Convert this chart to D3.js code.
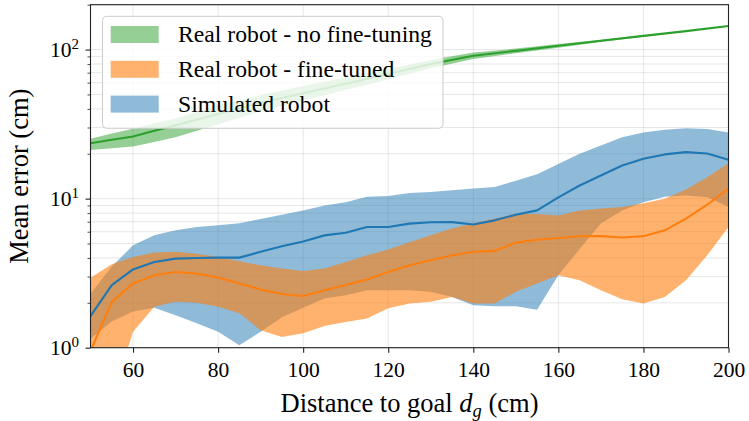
<!DOCTYPE html>
<html><head><meta charset="utf-8">
<script src="https://cdn.jsdelivr.net/npm/d3@7"></script>
<style>body{margin:0;background:#fff}</style>
</head><body><svg id="c" width="749" height="421"></svg>
<script>
// ---- data ----
const distances = [50,55,60,65,70,75,80,85,90,95,100,105,110,115,120,125,130,135,140,145,150,155,160,165,170,175,180,185,190,195,200];

const simMean  = [1.63,2.63,3.35,3.76,3.96,4.0,4.02,4.02,4.4,4.8,5.15,5.67,5.91,6.45,6.45,6.8,6.95,6.96,6.7,7.15,7.8,8.34,10.2,12.25,14.3,16.7,18.5,19.8,20.5,20.1,18.2];
const simUpper = [2.3,3.5,4.86,5.67,6.13,6.45,6.62,6.85,7.3,7.8,8.34,9.0,9.46,10.3,10.4,10.9,11.1,11.4,11.7,11.95,13.2,14.6,17.1,20,22.7,25.8,27.8,29,29.7,29.3,27.8];
const simLower = [1.15,1.5,1.75,1.85,1.65,1.46,1.28,1.04,1.28,1.6,1.85,2.14,2.25,2.43,2.43,2.43,2.37,2.19,1.93,1.9,1.9,1.8,3.06,4.6,6.8,8.34,9.46,10.3,10.5,10.2,8.8];

const ftMean  = [0.95,2.03,2.7,3.06,3.22,3.14,2.96,2.7,2.46,2.29,2.22,2.43,2.63,2.87,3.22,3.57,3.86,4.17,4.4,4.46,5.07,5.3,5.45,5.6,5.6,5.48,5.6,6.13,7.35,9.1,11.7];
const ftUpper = [2.95,3.63,4.06,4.35,4.4,4.27,4.06,3.8,3.57,3.4,3.27,3.4,3.76,4.17,4.55,5.1,5.67,6.3,6.85,7.35,7.9,7.9,7.7,8.34,8.6,8.8,9.3,10.0,11.5,13.9,17.3];
const ftLower = [0.5,0.45,1.28,1.88,2.03,2.0,1.88,1.7,1.31,1.18,1.25,1.40,1.49,1.57,1.84,1.98,2.03,2.19,1.98,1.98,2.37,2.7,3.06,2.84,2.43,2.11,1.98,2.19,2.84,4.17,6.45];

const greenDistances = [50,55,60,65,70,80,90,100,110,120,130,140,150,160,170,180,190,200];
const noFtMean  = [23.5,24.8,26.1,28.5,31,37,44,51,59,68.5,80,91,98,106,114.5,123.5,133,144];
const noFtUpper = [25.2,27.3,29.4,32,34.5,42.5,49.5,57,65,74,85,95.5,101.5,109,116.5,125,133.8,144.5];
const noFtLower = [21.2,21.8,22.4,24,25.8,31.5,38.5,45.5,53.5,63,75,86.5,94.5,103,112.5,122,132.2,143.5];

const xTicks = [60,80,100,120,140,160,180,200];
const yMajorTicks = [1,10,100];
const yTickExp = ["0","1","2"];
const legendLabels = ["Real robot - no fine-tuning","Real robot - fine-tuned","Simulated robot"];
const colors = {green:"#2ca02c", orange:"#ff7f0e", blue:"#1f77b4"};

// ---- layout ----
const L = 90.5, R = 728.5, T = 4.7, B = 347.7;
const FONT = "Liberation Serif";
const svg = d3.select("#c");
const x = d3.scaleLinear().domain([50,200]).range([L,R]);
const y = d3.scaleLog().domain([1,200]).range([B,T]);

const yMinor = [];
[1,10,100].forEach(b => { for (let k=2;k<=9;k++){ const v=b*k; if (v<=200) yMinor.push(v);} });

// grid
const grid = svg.append("g");
[...yMajorTicks, ...yMinor].forEach(v => {
  grid.append("line").attr("x1",L).attr("x2",R).attr("y1",y(v)).attr("y2",y(v))
    .attr("stroke","#b0b0b0").attr("stroke-opacity",0.3).attr("stroke-width",1);
});
xTicks.forEach(v => {
  grid.append("line").attr("y1",T).attr("y2",B).attr("x1",x(v)).attr("x2",x(v))
    .attr("stroke","#b0b0b0").attr("stroke-opacity",0.3).attr("stroke-width",1);
});

svg.append("clipPath").attr("id","clip").append("rect")
  .attr("x",L).attr("y",T).attr("width",R-L).attr("height",B-T);
const plot = svg.append("g").attr("clip-path","url(#clip)");

function band(xs, lo, hi, color, alpha){
  const data = xs.map((d,i)=>({d, lo:lo[i], hi:hi[i]}));
  plot.append("path").datum(data)
    .attr("d", d3.area().x(p=>x(p.d)).y0(p=>y(p.lo)).y1(p=>y(p.hi)))
    .attr("fill", color).attr("fill-opacity", alpha).attr("stroke","none");
}
function line(xs, m, color){
  const data = xs.map((d,i)=>({d, v:m[i]}));
  plot.append("path").datum(data)
    .attr("d", d3.line().x(p=>x(p.d)).y(p=>y(p.v)))
    .attr("fill","none").attr("stroke",color).attr("stroke-width",2.1).attr("stroke-linejoin","round");
}
band(greenDistances, noFtLower, noFtUpper, colors.green, 0.5);
band(distances, simLower, simUpper, colors.blue, 0.5);
band(distances, ftLower, ftUpper, colors.orange, 0.6);
line(greenDistances, noFtMean, colors.green);
line(distances, simMean, colors.blue);
line(distances, ftMean, colors.orange);

// axes
const xAxis = svg.append("g").attr("transform",`translate(0,${B})`)
  .call(d3.axisBottom(x).tickValues(xTicks).tickSize(5).tickPadding(9).tickFormat(d3.format("d")));
xAxis.select(".domain").remove();
xAxis.selectAll("text").attr("font-family",FONT).attr("font-size",21.5).attr("fill","#000");
xAxis.selectAll("line").attr("stroke","#222").attr("stroke-width",1.1);

const yAxis = svg.append("g").attr("transform",`translate(${L},0)`)
  .call(d3.axisLeft(y).tickValues(yMajorTicks).tickSize(5).tickFormat(""));
yAxis.select(".domain").remove();
yAxis.selectAll("line").attr("stroke","#222").attr("stroke-width",1.1);
const yAxisMinor = svg.append("g").attr("transform",`translate(${L},0)`)
  .call(d3.axisLeft(y).tickValues(yMinor).tickSize(3).tickFormat(""));
yAxisMinor.select(".domain").remove();
yAxisMinor.selectAll("line").attr("stroke","#222").attr("stroke-width",0.8);

yMajorTicks.forEach((v,i) => {
  const t = svg.append("text").attr("x",79).attr("y",y(v)+7.5)
    .attr("text-anchor","end").attr("font-family",FONT).attr("font-size",21.5).attr("fill","#000");
  t.append("tspan").text("10");
  t.append("tspan").attr("font-size",15).attr("dy",-8.5).text(yTickExp[i]);
});

// spines
svg.append("rect").attr("x",L).attr("y",T).attr("width",R-L).attr("height",B-T)
  .attr("fill","none").attr("stroke","#222").attr("stroke-width",1.1);

// axis labels
const xl = svg.append("text").attr("x",(L+R)/2).attr("y",411.5).attr("text-anchor","middle")
  .attr("font-family",FONT).attr("font-size",26.5).attr("fill","#000");
xl.append("tspan").text("Distance to goal ");
xl.append("tspan").attr("font-style","italic").text("d");
xl.append("tspan").attr("font-style","italic").attr("font-size",18.5).attr("dy",5).text("g");
xl.append("tspan").attr("dy",-5).text(" (cm)");

svg.append("text").attr("transform",`translate(27.5,${(T+B)/2}) rotate(-90)`)
  .attr("text-anchor","middle").attr("font-family",FONT).attr("font-size",26.5).attr("fill","#000")
  .text("Mean error (cm)");

// legend
const lg = svg.append("g");
lg.append("rect").attr("x",102.5).attr("y",16.3).attr("width",340.5).attr("height",112)
  .attr("rx",4).attr("fill","#fff").attr("fill-opacity",0.8).attr("stroke","#cccccc").attr("stroke-width",1);
const lgColors = [colors.green, colors.orange, colors.blue];
const lgAlpha = [0.5,0.6,0.5];
legendLabels.forEach((lab,i) => {
  const yy = 26 + i*34.8;
  lg.append("rect").attr("x",110.7).attr("y",yy).attr("width",48).attr("height",17)
    .attr("fill",lgColors[i]).attr("fill-opacity",lgAlpha[i]);
  lg.append("text").attr("x",178).attr("y",yy+16.3).attr("font-family",FONT).attr("font-size",23.7)
    .attr("fill","#000").text(lab);
});
</script></body></html>
